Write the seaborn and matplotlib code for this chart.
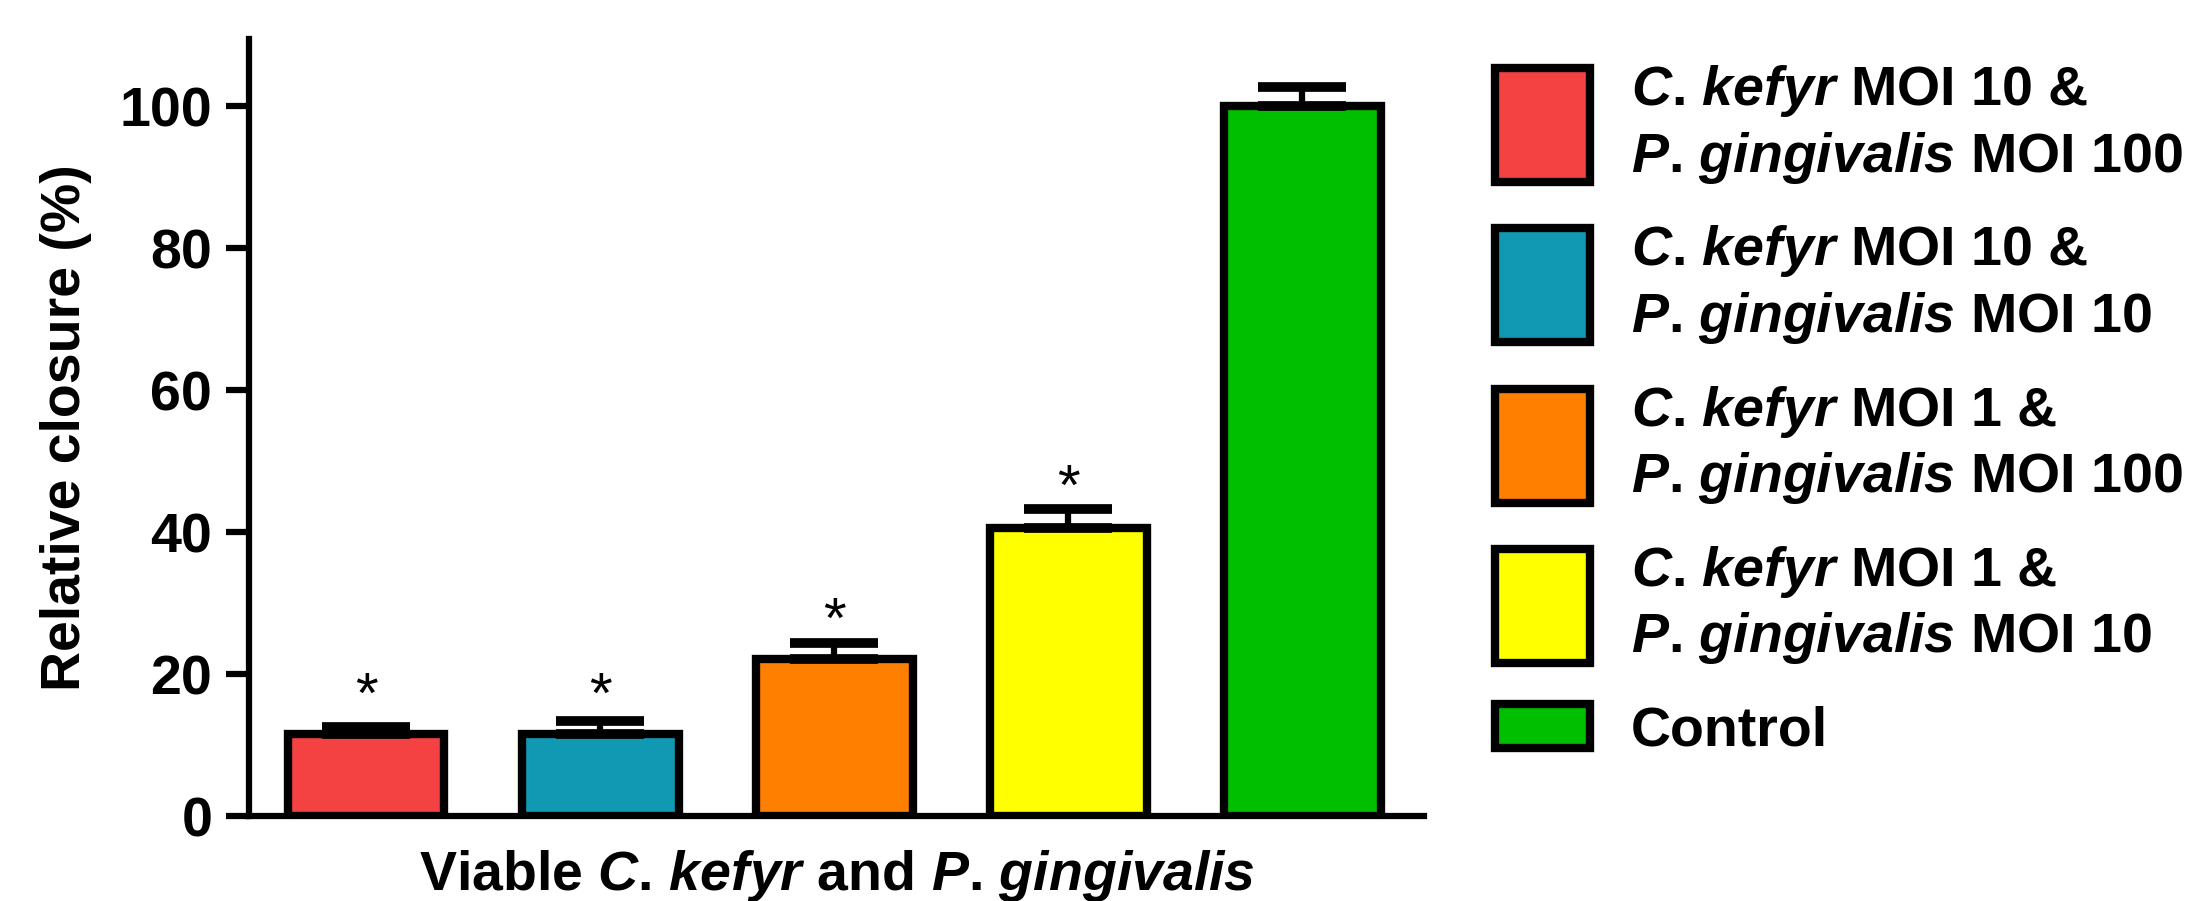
import matplotlib
matplotlib.use("Agg")
import matplotlib.pyplot as plt
import seaborn as sns
from matplotlib.patches import Patch, Rectangle
from matplotlib.legend_handler import HandlerPatch

# data
groups = ["CK10_PG100", "CK10_PG10", "CK1_PG100", "CK1_PG10", "Control"]
closure = [11.6, 11.6, 22.2, 40.6, 100.0]
sem = [0.9, 1.8, 2.2, 2.6, 2.7]
star_y = [14.6, 14.6, 25.1, 43.9]
colors = ["#F44242", "#1199B4", "#FF8000", "#FFFF00", "#00BF00"]
ck = r"$\mathit{C}$. $\mathit{kefyr}$"
pg = r"$\mathit{P}$. $\mathit{gingivalis}$"
legend_labels = [
    ck + " MOI 10 &\n" + pg + " MOI 100",
    ck + " MOI 10 &\n" + pg + " MOI 10",
    ck + " MOI 1 &\n" + pg + " MOI 100",
    ck + " MOI 1 &\n" + pg + " MOI 10",
    "Control",
]
xlabel = "Viable " + ck + " and " + pg
ylabel = "Relative closure (%)"

sns.set_style("ticks")
plt.rcParams["font.family"] = ["Liberation Sans", "DejaVu Sans"]
plt.rcParams["font.weight"] = "bold"
plt.rcParams["axes.labelweight"] = "bold"
plt.rcParams["text.color"] = "black"
plt.rcParams["axes.labelcolor"] = "black"
plt.rcParams["axes.edgecolor"] = "black"
plt.rcParams["ytick.color"] = "black"
plt.rcParams["xtick.color"] = "black"
plt.rcParams["mathtext.fontset"] = "custom"
plt.rcParams["mathtext.rm"] = "Liberation Sans:bold"
plt.rcParams["mathtext.bf"] = "Liberation Sans:bold"
plt.rcParams["mathtext.it"] = "Liberation Sans:italic:bold"

FS = 40

fig = plt.figure(figsize=(21.96, 9.01), dpi=100)
ax = fig.add_axes([0.1134, 0.0943, 0.5351, 0.8624])

sns.barplot(x=groups, y=closure, hue=groups, palette=colors, order=groups,
            hue_order=groups, edgecolor="black", linewidth=6, width=0.67,
            saturation=1, legend=False, ax=ax)

xs = list(range(len(groups)))
ax.errorbar(xs, closure, yerr=[[0] * len(sem), sem], fmt="none", ecolor="black",
            elinewidth=4.5, capsize=32, capthick=7, zorder=1)

for i, y in enumerate(star_y):
    ax.text(xs[i], y, "*", ha="center", va="baseline", fontsize=FS + 2,
            fontweight="normal")

ax.set_xlim(-0.5, 4.52)
ax.set_ylim(0, 109.5)
ax.set_yticks([0, 20, 40, 60, 80, 100])
ax.set_xticks([])
sns.despine(ax=ax)
for s in ["left", "bottom"]:
    ax.spines[s].set_linewidth(4.5)
ax.tick_params(axis="y", length=16.5, width=4.5, pad=10, labelsize=FS)
ax.set_xlabel(xlabel, fontsize=FS, labelpad=23)
ax.set_ylabel(ylabel, fontsize=FS, labelpad=20)


def tall_patch(legend, orig_handle, xdescent, ydescent, width, height, fontsize):
    extra = 25 if "\n" in orig_handle.get_label() else 0
    return Rectangle((-xdescent, -ydescent - extra), width, height + 2 * extra)


handles = [Patch(facecolor=c, edgecolor="black", linewidth=6, joinstyle="round", label=l)
           for c, l in zip(colors, legend_labels)]
leg = ax.legend(handles=handles, handler_map={Patch: HandlerPatch(patch_func=tall_patch)},
                loc="upper left", bbox_to_anchor=(0.681, 0.93),
                bbox_transform=fig.transFigure, frameon=False,
                prop={"size": FS, "weight": "bold"}, handlelength=1.7,
                handleheight=0.85, handletextpad=0.74, labelspacing=0.68,
                borderpad=0, borderaxespad=0)
for t in leg.get_texts():
    t.set_linespacing(1.25)

fig.savefig("out.png", dpi=100)
